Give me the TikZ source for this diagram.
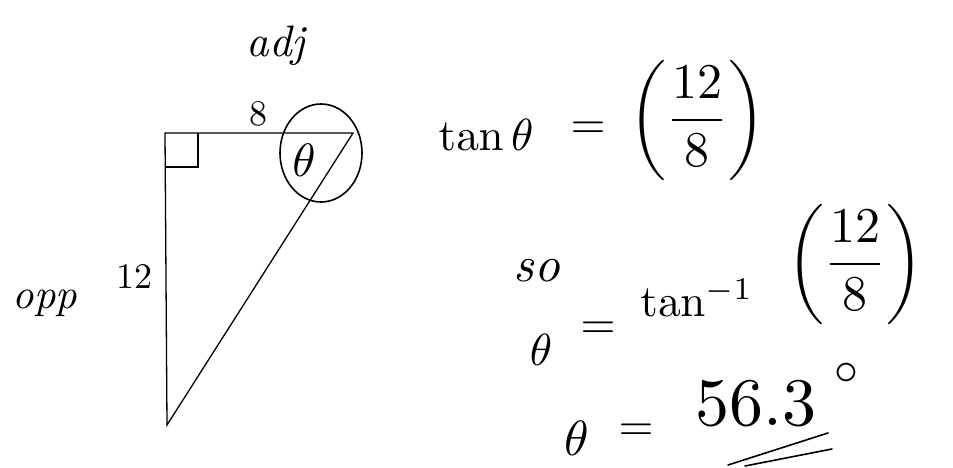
\documentclass[tikz,border=0pt]{standalone}
\usepackage{amsmath}
\usetikzlibrary{calc}
\begin{document}
\begin{tikzpicture}[x=1pt,y=-1pt,
  tri/.style={line width=1.3pt},
  hand/.style={line width=1.6pt, line cap=round},
  lbl/.style={inner sep=0pt, scale=3.6},
  hw/.style={inner sep=0pt, scale=4.2, font=\itshape},
  eq/.style={inner sep=0pt, scale=4.5},
  frc/.style={inner sep=0pt, scale=5}]
\useasboundingbox (0,0) rectangle (953,468);
% triangle
\coordinate (A) at (165,133);
\coordinate (B) at (353,133);
\coordinate (C) at (167,425);
\draw[tri] (A) -- (B) -- (C) -- cycle;
\draw[tri] ($(A)+(0,34)$) -- ($(A)+(33,34)$) -- ($(A)+(33,0)$);
% circle around theta
\draw[hand] (321,153) ellipse [x radius=41pt, y radius=49pt];
% labels
\node[lbl] (eight) at (258,114) {8};
\node[lbl] (twelve) at (134,277) {12};
\node[lbl, scale=1.3] (theta) at (304,160) {$\theta$};
\node[hw] (opp) at (45,303) {opp};
\node[hw, scale=1.05] (adj) at (276,46) {adj};
% equation 1
\node[eq] (tan1) at (486,135) {$\tan\theta$};
\node[eq] (eq1) at (588,130) {$=$};
\node[frc] (fr1) at (697,120) {$\displaystyle\left(\frac{12}{8}\right)$};
% equation 2
\node[hw, scale=1.2] (so) at (537,271) {so};
\node[eq] (th2) at (541,350) {$\theta$};
\node[eq] (eq2) at (598,330) {$=$};
\node[eq] (tan2) at (697,298) {$\tan^{-1}$};
\node[frc] (fr2) at (855,264) {$\displaystyle\left(\frac{12}{8}\right)$};
% equation 3
\node[eq, scale=1.1] (th3) at (577,438) {$\theta$};
\node[eq] (eq3) at (636,432) {$=$};
\node[inner sep=0pt, scale=6.8] (res) at (756,404) {$56.3$};
\node[inner sep=0pt, scale=4.8] (deg) at (846,374) {$\circ$};
\coordinate (u1a) at (728,465);
\coordinate (u1b) at (828,433);
\coordinate (u2a) at (745,466);
\coordinate (u2b) at (832,449);
\draw[hand] (u1a) -- (u1b);
\draw[hand] (u2a) -- (u2b);
\end{tikzpicture}
\end{document}
